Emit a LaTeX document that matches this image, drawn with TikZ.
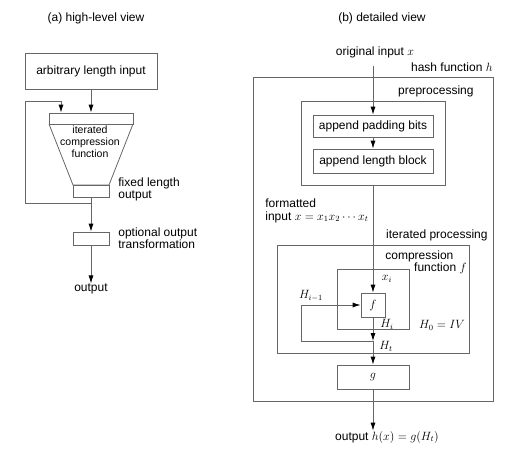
\documentclass[tikz,border=0pt]{standalone}
\usepackage{fontspec}
\setmainfont{Liberation Sans}
\usepackage{tikz}
\usetikzlibrary{arrows.meta}

\begin{document}
\begin{tikzpicture}[x=1pt, y=-1pt,
        line width=0.8pt, draw=black!60,
        box/.style={draw=black!60, inner sep=0pt},
        txt/.style={font=\fontsize{12}{12}\selectfont, inner sep=0pt, align=left},
        small/.style={font=\fontsize{10.5}{12}\selectfont, inner sep=0pt, align=center},
        arr/.style={-{Latex[length=8pt,width=5pt,black]}}]
        \useasboundingbox (0,0) rectangle (520,461);

        % (a) high-level view
        \node[txt] (ta) at (96,18) {(a) high-level view};
        \node[box, txt, minimum width=132pt, minimum height=36pt] (inp) at (91,71) {arbitrary length input};
        \node[box, minimum width=84pt, minimum height=11pt] (top) at (91,118.5) {};
        \draw[black!60] (49,124) -- (73,185) -- (109,185) -- (133,124);
        \node[box, minimum width=36pt, minimum height=12pt] (bot) at (91,191) {};
        \node[small] (itc) at (90,142) {iterated\\compression\\function};
        \node[txt, anchor=west] (fix) at (118,189.5) {fixed length\\output};
        \node[box, minimum width=36pt, minimum height=13pt] (opt) at (91,238.5) {};
        \node[txt, anchor=west] (optl) at (118,238.5) {optional output\\transformation};
        \node[txt] (outa) at (91,289) {output};

        \coordinate (split) at (91,203);
        \coordinate (loopc) at (25,101);
        \draw[arr] (inp) -- (top);
        \draw (bot) -- (split);
        \draw[arr] (split) -| (loopc) -| ([xshift=-30pt]top.north);
        \draw[arr] (split) -- (opt);
        \draw[arr] (opt) -- (outa);

        % (b) detailed view
        \node[txt] (tb) at (382,18) {(b) detailed view};
        \node[txt] (orig) at (375,52) {original input $x$};
        \node[txt, anchor=east] (hashl) at (493,67) {hash function $h$};
        \node[box, minimum width=240pt, minimum height=324pt] (hash) at (373,239) {};
        \node[txt, anchor=east] (prel) at (474,91) {preprocessing};
        \node[box, minimum width=144pt, minimum height=84pt] (pre) at (373,143) {};
        \node[box, txt, minimum width=120pt, minimum height=22pt] (pad) at (373,126) {append padding bits};
        \node[box, txt, minimum width=120pt, minimum height=24pt] (len) at (373,161) {append length block};
        \node[txt, anchor=west] (fmt) at (265,210.5) {formatted\\[1pt]input $x=x_1x_2\cdots x_t$};
        \node[txt, anchor=east] (itl) at (488,235) {iterated processing};
        \node[box, minimum width=192pt, minimum height=108pt] (iter) at (373,299) {};
        \node[txt, anchor=west] (cfl) at (385,256) {compression};
        \node[txt, anchor=east] (cfm) at (467,268) {function $f$};
        \node[box, minimum width=72pt, minimum height=60pt] (cf) at (373,299) {};
        \node[box, txt, minimum width=24pt, minimum height=24pt] (fbox) at (373,305) {$f$};
        \node[txt] (xi) at (387,279) {$x_i$};
        \node[txt] (hprev) at (311,296) {$H_{i-1}$};
        \node[txt] (hi) at (387,324) {$H_i$};
        \node[txt] (iv) at (442,325) {$H_0=IV$};
        \node[txt] (htl) at (386,346) {$H_t$};
        \node[box, txt, minimum width=72pt, minimum height=24pt] (gbox) at (373,377) {$g$};
        \node[txt] (outb) at (387,437) {output $h(x)=g(H_t)$};

        \coordinate (inx) at (373,66);
        \coordinate (ht) at (373,341);
        \coordinate (hl) at (301,341);
        \draw[arr] (inx) -- (pad);
        \draw[arr] (pad) -- (len);
        \draw[arr] (pre.south) -- (fbox.north);
        \draw[arr] (fbox) -- (ht);
        \draw[arr] (ht) -- (hl) |- (fbox.west);
        \draw[arr] (ht) -- (gbox);
        \draw[arr] (gbox) -- (gbox.south |- outb.north);
    \end{tikzpicture}
\end{document}
